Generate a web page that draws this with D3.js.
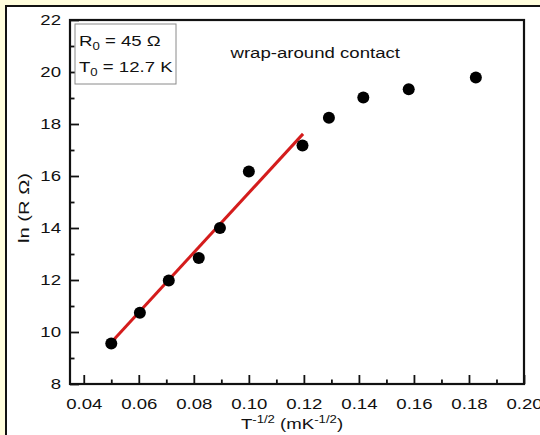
<!DOCTYPE html>
<html>
<head>
<meta charset="utf-8">
<script src="https://cdn.jsdelivr.net/npm/d3@7"></script>
<style>
  html, body { margin: 0; padding: 0; background: #fffddc; }
  svg { display: block; }
  text { font-family: "Liberation Sans", Arial, Helvetica, sans-serif; fill: #111; }
</style>
</head>
<body>
<script>
// Tick values
const xTicks = [0.04, 0.06, 0.08, 0.10, 0.12, 0.14, 0.16, 0.18, 0.20];
const xMinor = [0.05, 0.07, 0.09, 0.11, 0.13, 0.15, 0.17, 0.19];
const yTicks = [8, 10, 12, 14, 16, 18, 20, 22];
const yMinor = [9, 11, 13, 15, 17, 19, 21];

// Measured ln(R) versus T^-1/2
const tInv = [0.0500, 0.0604, 0.0709, 0.0818, 0.0895, 0.1000, 0.1195, 0.1291, 0.1416, 0.1581, 0.1825];
const lnR  = [9.56, 10.74, 11.98, 12.85, 14.00, 16.17, 17.17, 18.24, 19.02, 19.34, 19.79];

// Linear fit over the low-T^-1/2 range
const fitX = [0.0498, 0.1197];
const fitY = [9.58, 17.62];

const W = 540, H = 435;
const plotL = 70, plotR = 524, plotT = 20, plotB = 384;
const FS = 15.5, SX = 1.2;   // font size and horizontal glyph stretch

const svg = d3.select("body").append("svg").attr("width", W).attr("height", H);

// Page background and framed white panel
svg.append("rect").attr("width", W).attr("height", H).attr("fill", "#fffddc");
svg.append("rect").attr("x", 6).attr("y", 6).attr("width", W + 10).attr("height", H + 10)
  .attr("fill", "#fff").attr("stroke", "#111").attr("stroke-width", 2);

const x = d3.scaleLinear().domain([0.035, 0.20]).range([plotL, plotR]);
const y = d3.scaleLinear().domain([8, 22]).range([plotB, plotT]);

// Minor ticks
svg.append("g").attr("transform", `translate(0,${plotB})`)
  .call(d3.axisBottom(x).tickValues(xMinor).tickSize(-4.5).tickFormat(""))
  .call(g => g.select(".domain").remove());
svg.append("g").attr("transform", `translate(${plotL},0)`)
  .call(d3.axisLeft(y).tickValues(yMinor).tickSize(-4.5).tickFormat(""))
  .call(g => g.select(".domain").remove());

// Major ticks with labels
const gx = svg.append("g").attr("transform", `translate(0,${plotB})`)
  .call(d3.axisBottom(x).tickValues(xTicks).tickSizeInner(-9).tickSizeOuter(0)
    .tickPadding(14).tickFormat(d3.format(".2f")))
  .call(g => g.select(".domain").remove());
const gy = svg.append("g").attr("transform", `translate(${plotL},0)`)
  .call(d3.axisLeft(y).tickValues(yTicks).tickSizeInner(-9).tickSizeOuter(0)
    .tickPadding(9).tickFormat(d3.format("d")))
  .call(g => g.select(".domain").remove());

svg.selectAll(".tick line").attr("stroke", "#111").attr("stroke-width", 1.8);
[gx, gy].forEach(g => g.selectAll("text")
  .attr("font-size", FS).attr("fill", "#111")
  .attr("font-family", "Liberation Sans, Arial, sans-serif")
  .attr("transform", `scale(${SX},1)`));
gy.selectAll("text").attr("x", -9 / SX);

// Plot frame
svg.append("rect").attr("x", plotL).attr("y", plotT)
  .attr("width", plotR - plotL).attr("height", plotB - plotT)
  .attr("fill", "none").attr("stroke", "#111").attr("stroke-width", 2.2);

// Fit line
svg.append("line")
  .attr("x1", x(fitX[0])).attr("y1", y(fitY[0]))
  .attr("x2", x(fitX[1])).attr("y2", y(fitY[1]))
  .attr("stroke", "#d41c1c").attr("stroke-width", 3);

// Data points
svg.append("g").selectAll("circle")
  .data(tInv.map((t, i) => [t, lnR[i]]))
  .join("circle")
  .attr("cx", d => x(d[0])).attr("cy", d => y(d[1]))
  .attr("r", 6).attr("fill", "#000");

// Parameter box
svg.append("rect").attr("x", 75).attr("y", 24).attr("width", 101).attr("height", 60)
  .attr("fill", "#fff").attr("stroke", "#8a8a8a").attr("stroke-width", 1);

function subText(xp, yp, main, sub, rest) {
  const t = svg.append("text").attr("transform", `translate(${xp},${yp}) scale(${SX},1)`)
    .attr("font-size", FS);
  t.append("tspan").text(main);
  t.append("tspan").attr("font-size", 11).attr("dy", 4).text(sub);
  t.append("tspan").attr("dy", -4).text(rest);
}
subText(79, 45.7, "R", "0", " = 45 \u03A9");
subText(79, 72.3, "T", "0", " = 12.7 K");

svg.append("text").attr("transform", `translate(230.5,57.7) scale(${SX},1)`)
  .attr("font-size", FS).text("wrap-around contact");

// Axis titles
const xt = svg.append("text").attr("transform", `translate(292,429) scale(${SX},1)`)
  .attr("text-anchor", "middle").attr("font-size", FS);
xt.append("tspan").text("T");
xt.append("tspan").attr("font-size", 11).attr("dy", -6).text("-1/2");
xt.append("tspan").attr("dy", 6).text(" (mK");
xt.append("tspan").attr("font-size", 11).attr("dy", -6).text("-1/2");
xt.append("tspan").attr("dy", 6).text(")");

svg.append("text").attr("transform", `translate(29,208) rotate(-90) scale(1.3,1)`)
  .attr("text-anchor", "middle").attr("font-size", FS).text("ln (R \u03A9)");
</script>
</body>
</html>
